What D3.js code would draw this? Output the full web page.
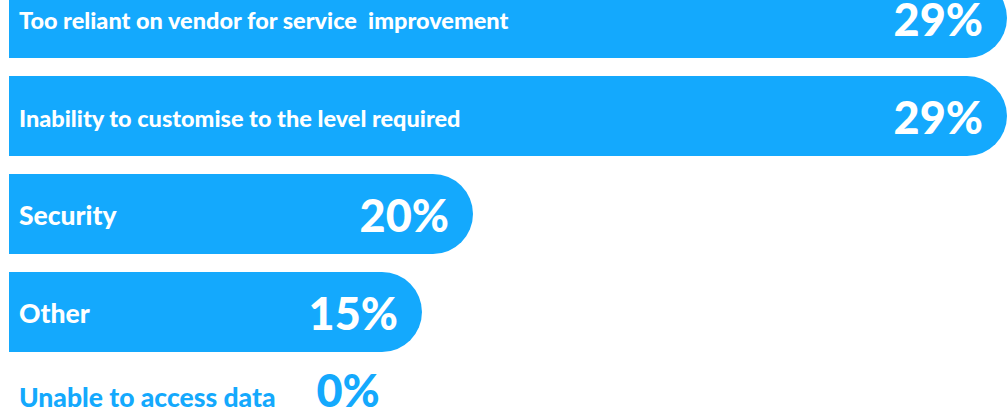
<!DOCTYPE html>
<html>
<head>
<meta charset="utf-8">
<script src="https://cdn.jsdelivr.net/npm/d3@7"></script>
<style>
  html, body { margin: 0; padding: 0; background: #fff; }
  svg { display: block; }
  text { font-family: Lato, "Open Sans", sans-serif; font-weight: 900; white-space: pre; }
</style>
</head>
<body>
<svg id="chart" width="1007" height="413"></svg>
<script>
// Data
const categories = [
    'Too reliant on vendor for service  improvement',
    'Inability to customise to the level required',
    'Security',
    'Other',
    'Unable to access data'
];
const values = [29, 29, 20, 15, 0];

const barColor = '#14a9fd';

const svg = d3.select('#chart');

// Rows: band scale, first bar partly cut off at the top
const y = d3.scaleBand()
    .domain(categories)
    .range([-22, 450])
    .paddingInner(0.184)
    .paddingOuter(0);

// Bar lengths in the infographic are not proportional, so piecewise scale
const x = d3.scaleLinear()
    .domain([0, 15, 20, 29])
    .range([9, 422, 473, 1007]);

const rows = categories.map((c, i) => ({ label: c, value: values[i] }));

function barPath(d) {
    const x0 = x(0);
    const x1 = x(d.value);
    const y0 = y(d.label);
    const h = y.bandwidth();
    const r = h / 2;
    return `M${x0},${y0} H${x1 - r} A${r},${r} 0 0 1 ${x1 - r},${y0 + h} H${x0} Z`;
}

// long labels are set a bit smaller
const labelSize = d => d.label.length > 30 ? 23.5 : 26.5;

const row = svg.selectAll('.row')
    .data(rows)
    .join('g')
    .attr('class', 'row');

row.filter(d => d.value > 0)
    .append('path')
    .attr('d', barPath)
    .attr('fill', barColor);

// Category labels
const labels = row.append('text')
    .attr('x', x(0) + 10)
    .attr('y', d => y(d.label) + y.bandwidth() / 2 + (d.value > 0 ? 11 : -3))
    .attr('fill', d => d.value > 0 ? '#fff' : barColor)
    .attr('font-size', labelSize)
    .text(d => d.label);

// Value labels
row.append('text')
    .attr('x', function (d) {
        if (d.value > 0) return x(d.value) - 24;
        const lab = labels.filter(l => l === d).node();
        return x(0) + 10 + lab.getComputedTextLength() + 41;
    })
    .attr('y', d => y(d.label) + y.bandwidth() / 2 + (d.value > 0 ? 18 : -3))
    .attr('text-anchor', d => d.value > 0 ? 'end' : 'start')
    .attr('fill', d => d.value > 0 ? '#fff' : barColor)
    .attr('font-size', 45)
    .text(d => d.value + '%');
</script>
</body>
</html>
